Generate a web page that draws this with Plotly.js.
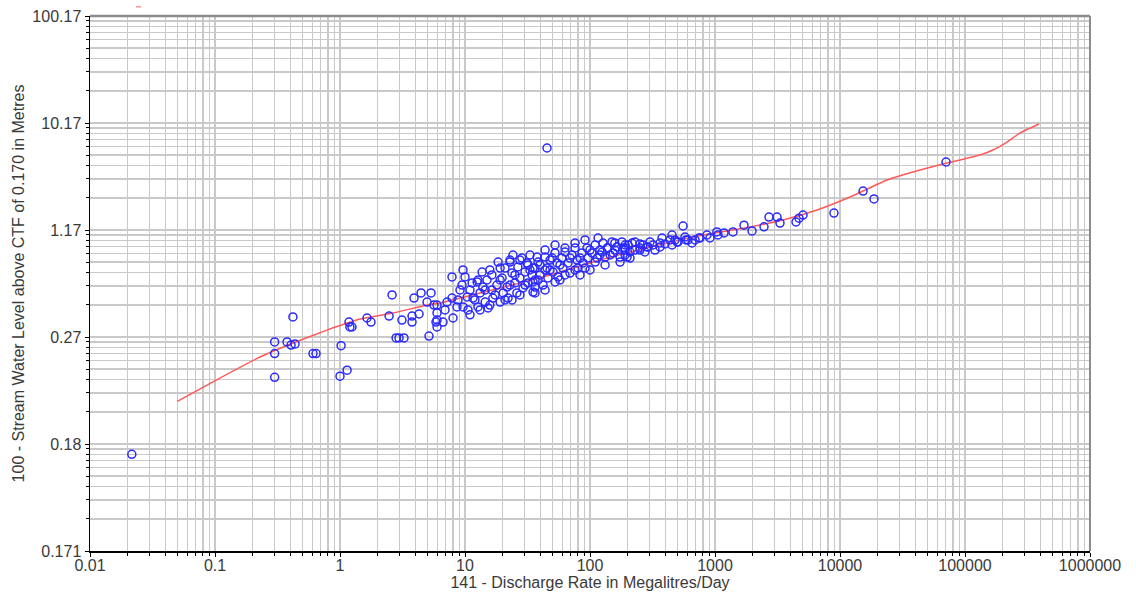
<!DOCTYPE html>
<html>
<head>
<meta charset="utf-8">
<script src="https://cdn.plot.ly/plotly-3.0.1.min.js"></script>
<style>
html,body{margin:0;padding:0;background:#fff;}
#chart{width:1136px;height:599px;}
</style>
</head>
<body>
<div id="chart"></div>
<script>
// Cease-to-flow offset (m)
const CTF = 0.170;

// Rating curve (discharge ML/day, level m)
const curveQ = [0.05, 0.104, 0.229, 0.421, 0.787, 1.445, 2.65, 4.97, 6.31, 19.05, 47.9, 120, 302, 802, 1905, 3499, 6546, 12023, 23770, 43650, 71779, 91200, 131800, 167500, 216800, 275400, 390800];
const curveLevel = [0.195, 0.210, 0.235, 0.258, 0.286, 0.317, 0.3375, 0.369, 0.378, 0.457, 0.549, 0.695, 0.864, 1.067, 1.237, 1.41, 1.708, 2.204, 3.102, 3.81, 4.40, 4.68, 5.19, 5.76, 6.81, 8.24, 9.96];

// Gauged observations (discharge ML/day)
const obsQ = [
  0.0216, 0.30, 0.30, 0.30, 0.42, 0.377, 0.406, 0.437, 0.608, 0.643,
  1.02, 1.0, 1.14, 1.18, 1.20, 1.247, 1.644, 1.77, 2.47, 2.61,
  2.81, 2.965, 3.25, 3.13, 3.77, 3.77, 3.91, 4.29, 4.45, 5.15,
  5.35, 4.97, 5.65, 5.86, 5.97, 5.97, 5.97, 5.97, 6.67, 6.92,
  7.18, 8.02, 7.87, 7.87, 8.63, 9.12, 9.64, 10.0, 9.64, 10.4,
  10.96, 11.4, 11.6, 12.5, 12.7, 13.2, 13.7, 13.9, 14.5, 15.0,
  15.3, 16.4, 16.4, 16.7, 18.0, 18.4, 19.1, 19.8, 20.2, 20.9,
  21.7, 22.1, 22.9, 23.8, 24.2, 25.1, 26.0, 26.5, 27.5, 28.5,
  29.1, 30.2, 31.3, 31.9, 33.1, 34.4, 35.0, 36.3, 37.7, 38.4,
  35.0, 35.0, 36.3, 38.4, 39.8, 42.1, 43.7, 45.3, 46.1, 47.9,
  50.6, 52.5, 54.5, 55.5, 59.6, 60.7, 63.1, 66.7, 69.2, 71.8,
  75.9, 78.7, 80.2, 86.3, 87.9, 94.6, 96.4, 103.7, 110, 114,
  120, 127, 132, 139, 150, 153, 164, 174, 180, 191,
  202, 198, 125, 137, 158, 191, 217, 251, 286, 319,
  363, 377, 453, 497, 586, 555, 655, 745, 863, 1057,
  1180, 1393, 1706, 1977, 2466, 2704, 3133, 3311, 4446, 4698,
  5060, 8950, 15300, 18700, 70500, 45.3, 229, 265, 437, 453,
  506, 608, 759, 1035, 184, 209, 191, 251, 291, 363,
  12.0, 13.2, 14.5, 15.8, 17.4, 19.1, 20.9, 22.9, 25.1, 27.5,
  30.2, 33.1, 36.3, 39.8, 43.7, 47.9, 52.5, 57.5, 63.1, 69.2,
  75.9, 83.2, 91.2, 100, 110, 120, 132, 145, 158, 174,
  191, 209, 229, 251, 275, 302, 331, 398, 479, 575,
  692, 912, 15.8, 19.1, 22.9, 27.5, 43.7, 52.5, 63.1, 75.9,
  91.2, 116, 10.96, 12.7, 8.79, 9.46, 10.57, 43.7, 49.8, 31.9,
  23.8, 36.3, 57.5, 83.2, 100
];
// Gauged observations (level m)
const obsLevel = [
  0.178, 0.260, 0.240, 0.212, 0.324, 0.260, 0.254, 0.256, 0.240, 0.240,
  0.253, 0.213, 0.219, 0.308, 0.294, 0.294, 0.3205, 0.308, 0.327, 0.417,
  0.268, 0.268, 0.268, 0.314, 0.327, 0.308, 0.401, 0.334, 0.428, 0.272,
  0.428, 0.382, 0.369, 0.308, 0.294, 0.338, 0.369, 0.314, 0.308, 0.349,
  0.382, 0.3205, 0.401, 0.534, 0.361, 0.445, 0.593, 0.534, 0.361, 0.4065,
  0.331, 0.490, 0.401, 0.497, 0.361, 0.428, 0.575, 0.463, 0.382, 0.511,
  0.357, 0.550, 0.445, 0.401, 0.476, 0.672, 0.382, 0.526, 0.428, 0.611,
  0.463, 0.401, 0.694, 0.566, 0.754, 0.490, 0.428, 0.621, 0.526, 0.717,
  0.457, 0.575, 0.662, 0.490, 0.754, 0.550, 0.433, 0.611, 0.729, 0.511,
  0.611, 0.497, 0.463, 0.672, 0.550, 0.476, 0.729, 0.611, 0.526, 0.694,
  0.575, 0.780, 0.662, 0.534, 0.717, 0.611, 0.793, 0.662, 0.566, 0.754,
  0.849, 0.694, 0.611, 0.780, 0.662, 0.849, 0.717, 0.780, 0.894, 0.717,
  0.820, 0.926, 0.729, 0.849, 0.943, 0.780, 0.864, 0.729, 0.943, 0.820,
  0.894, 0.729, 0.793, 0.849, 0.926, 0.849, 0.926, 0.849, 0.864, 0.894,
  0.926, 1.012, 1.068, 0.943, 0.977, 1.26, 0.926, 1.012, 1.068, 1.07,
  1.11, 1.13, 1.28, 1.15, 1.24, 1.49, 1.49, 1.33, 1.36, 1.46,
  1.55, 1.61, 2.48, 2.12, 4.49, 6.01, 0.943, 0.894, 0.977, 0.894,
  0.943, 0.977, 1.012, 1.13, 0.849, 0.793, 0.754, 0.820, 0.864, 0.864,
  0.392, 0.349, 0.445, 0.369, 0.417, 0.511, 0.392, 0.476, 0.550, 0.417,
  0.476, 0.593, 0.511, 0.641, 0.445, 0.593, 0.497, 0.641, 0.550, 0.717,
  0.593, 0.717, 0.611, 0.820, 0.672, 0.754, 0.641, 0.754, 0.820, 0.672,
  0.894, 0.717, 0.820, 0.910, 0.793, 0.943, 0.820, 0.910, 0.977, 1.030,
  0.977, 1.012, 0.593, 0.611, 0.672, 0.694, 0.820, 0.894, 0.849, 0.926,
  0.977, 1.012, 0.445, 0.511, 0.392, 0.476, 0.349, 0.593, 0.717, 0.641,
  0.392, 0.428, 0.511, 0.550, 0.593
];

// Axis tick labels
const xTickVals = [0.01, 0.1, 1, 10, 100, 1000, 10000, 100000, 1000000];
const xTickText = ["0.01", "0.1", "1", "10", "100", "1000", "10000", "100000", "1000000"];
const yTickLevels = [0.171, 0.18, 0.27, 1.17, 10.17, 100.17];
const yTickText = ["0.171", "0.18", "0.27", "1.17", "10.17", "100.17"];

const xTitle = "141 - Discharge Rate in Megalitres/Day";
const yTitle = "100 - Stream Water Level above CTF of 0.170 in Metres";

function minorVals(d0, d1) {
  const v = [];
  for (let d = d0; d < d1; d++) for (let k = 2; k <= 9; k++) v.push(k * Math.pow(10, d));
  return v;
}

const off = a => a.map(v => v - CTF);

const FONT = "Liberation Sans, Arial, sans-serif";
const GRID = "#c9c9c9";

const traces = [
  {
    x: curveQ, y: off(curveLevel), type: "scatter", mode: "lines",
    line: {color: "#ff5a5a", width: 1.5, shape: "spline", smoothing: 0.4},
    hoverinfo: "skip", showlegend: false
  },
  {
    x: obsQ, y: off(obsLevel), type: "scatter", mode: "markers",
    marker: {symbol: "circle-open", size: 8, color: "#2a2aff", line: {width: 1.5, color: "#2a2aff"}},
    showlegend: false
  }
];

const axisCommon = {
  type: "log",
  showline: true, linecolor: "#000", linewidth: 1.5,
  ticks: "outside", ticklen: 4, tickcolor: "#000", tickwidth: 1,
  showgrid: true, gridcolor: GRID, gridwidth: 1.5,
  zeroline: false,
  tickfont: {family: FONT, size: 16, color: "#3a3a3a"},
  tickmode: "array"
};

const layout = {
  width: 1136, height: 599,
  margin: {l: 90, r: 46, t: 16, b: 48},
  paper_bgcolor: "#fff", plot_bgcolor: "#fff",
  showlegend: false,
  xaxis: Object.assign({}, axisCommon, {
    range: [-2, 6],
    tickvals: xTickVals, ticktext: xTickText,
    ticklabelstandoff: -5,
    minor: {tickmode: "array", tickvals: minorVals(-2, 6), ticks: "outside", ticklen: 3, tickcolor: "#000", showgrid: true, gridcolor: GRID, gridwidth: 1.5},
    title: {text: xTitle, font: {family: FONT, size: 16, color: "#3a3a3a"}, standoff: 0}
  }),
  yaxis: Object.assign({}, axisCommon, {
    range: [-3, 2],
    tickvals: off(yTickLevels), ticktext: yTickText,
    minor: {tickmode: "array", tickvals: minorVals(-3, 2), ticks: "outside", ticklen: 3, tickcolor: "#000", showgrid: true, gridcolor: GRID, gridwidth: 1.5},
    title: {text: yTitle, font: {family: FONT, size: 16, color: "#3a3a3a"}, standoff: 4}
  }),
  shapes: [
    {type: "line", xref: "paper", yref: "paper", x0: 0, x1: 1, y0: 1, y1: 1, line: {color: "#8c8c8c", width: 2.5}},
    {type: "line", xref: "paper", yref: "paper", x0: 1, x1: 1, y0: 0, y1: 1, line: {color: "#8c8c8c", width: 2}},
    {type: "line", xref: "paper", yref: "paper", x0: 0.046, x1: 0.051, y0: 1.017, y1: 1.017, line: {color: "#ff6060", width: 1}}
  ]
};

Plotly.newPlot("chart", traces, layout, {displayModeBar: false, staticPlot: true});
</script>
</body>
</html>
